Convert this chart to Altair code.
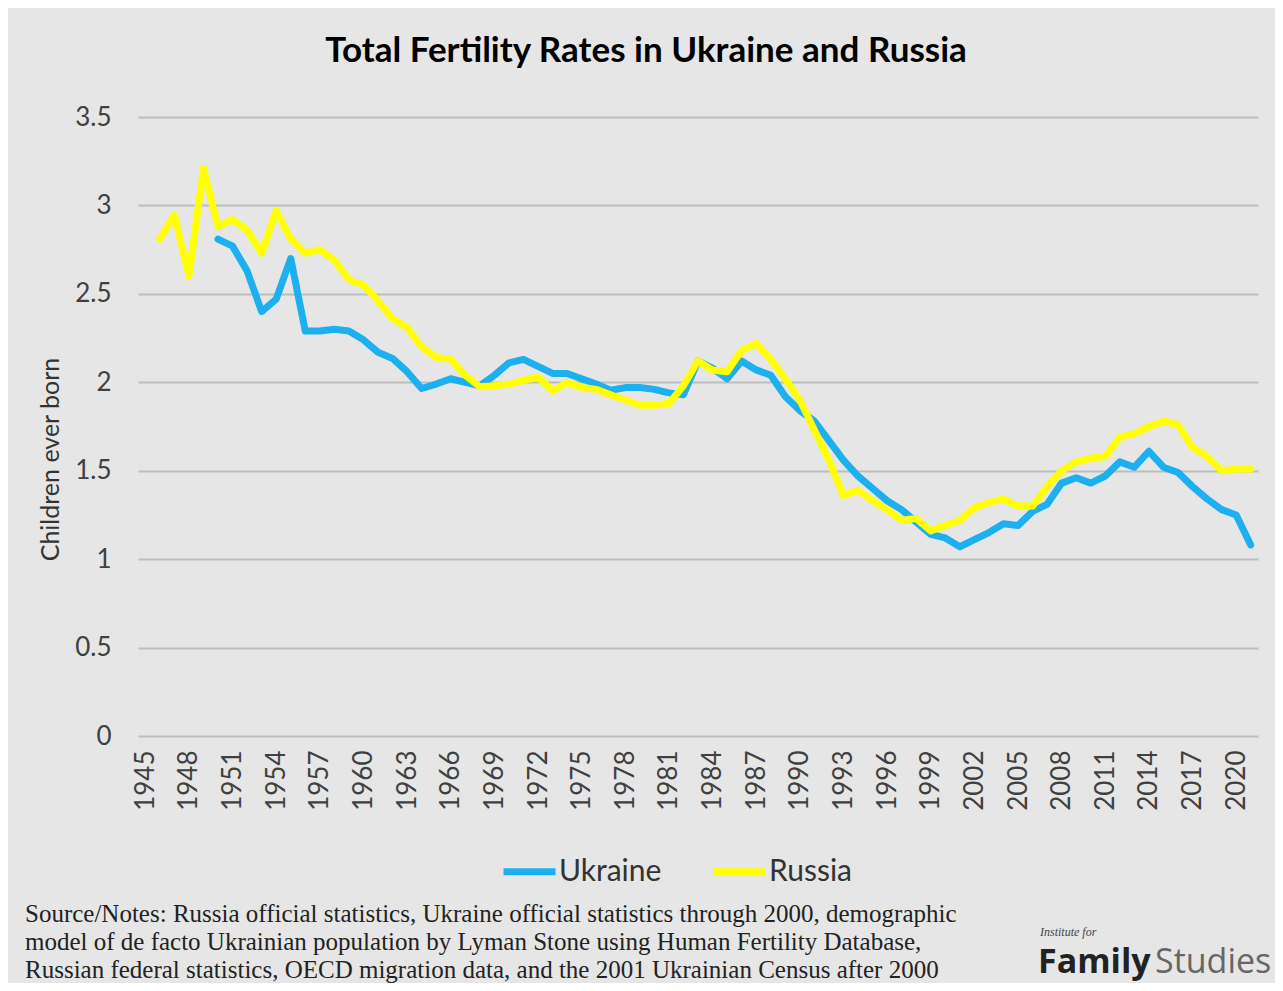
import altair as alt
import pandas as pd

# ---------------- data ----------------
years_russia = list(range(1946, 2022))
russia = [2.81, 2.945, 2.60, 3.21, 2.88, 2.92, 2.86, 2.73, 2.97, 2.81,
          2.73, 2.75, 2.69, 2.58, 2.55, 2.46, 2.36, 2.31, 2.20, 2.14,
          2.13, 2.04, 1.975, 1.98, 1.99, 2.01, 2.03, 1.95, 2.00, 1.97,
          1.96, 1.93, 1.90, 1.87, 1.87, 1.88, 1.98, 2.12, 2.07, 2.06,
          2.18, 2.22, 2.13, 2.02, 1.90, 1.73, 1.56, 1.36, 1.39, 1.33,
          1.28, 1.22, 1.23, 1.16, 1.19, 1.22, 1.29, 1.32, 1.34, 1.30,
          1.30, 1.41, 1.50, 1.55, 1.57, 1.58, 1.69, 1.71, 1.75, 1.78,
          1.76, 1.63, 1.58, 1.50, 1.51, 1.51]

years_ukraine = list(range(1950, 2022))
ukraine = [2.81, 2.77, 2.63, 2.40, 2.47, 2.70, 2.29, 2.29, 2.30, 2.29,
           2.24, 2.17, 2.135, 2.06, 1.965, 1.99, 2.02, 2.00, 1.98, 2.04,
           2.11, 2.13, 2.09, 2.05, 2.05, 2.02, 1.99, 1.955, 1.97, 1.97,
           1.96, 1.94, 1.93, 2.12, 2.08, 2.02, 2.12, 2.07, 2.04, 1.92,
           1.84, 1.78, 1.67, 1.56, 1.47, 1.40, 1.33, 1.28, 1.21, 1.14,
           1.12, 1.07, 1.11, 1.15, 1.20, 1.19, 1.27, 1.31, 1.43, 1.46,
           1.43, 1.47, 1.55, 1.52, 1.61, 1.52, 1.49, 1.41, 1.34, 1.28,
           1.25, 1.08]

x_tick_years = list(range(1945, 2021, 3))
y_ticks = [0, 0.5, 1, 1.5, 2, 2.5, 3, 3.5]
series_names = ["Ukraine", "Russia"]
series_colors = ["#1CB0F0", "#FFFF00"]

title_text = "Total Fertility Rates in Ukraine and Russia"
y_title = "Children ever born"
footer_lines = [
    "Source/Notes: Russia official statistics, Ukraine official statistics through 2000, demographic",
    "model of de facto Ukrainian population by Lyman Stone using Human Fertility Database,",
    "Russian federal statistics, OECD migration data, and the 2001 Ukrainian Census after 2000",
]
logo_small = "Institute for"
logo_bold = "Family"
logo_light = "Studies"

# ---------------- build table ----------------
df = pd.concat([
    pd.DataFrame({"year": years_ukraine, "tfr": ukraine, "series": "Ukraine"}),
    pd.DataFrame({"year": years_russia, "tfr": russia, "series": "Russia"}),
], ignore_index=True)

FONT = "Lato"

x_enc = alt.X(
    "year:Q",
    title=None,
    scale=alt.Scale(domain=[1944.5, 2021.5], nice=False, zero=False),
    axis=alt.Axis(values=x_tick_years, format="d", labelAngle=270,
                  labelFontSize=26, labelFont=FONT, labelColor="#404040",
                  labelPadding=14, ticks=False, domain=False, grid=False,
                  labelOverlap=False),
)
y_enc = alt.Y(
    "tfr:Q",
    title=y_title,
    scale=alt.Scale(domain=[0, 3.5], nice=False),
    axis=alt.Axis(values=y_ticks, format="~g", labelFontSize=26, labelFont=FONT,
                  labelColor="#404040", labelPadding=27, ticks=False,
                  domain=False, grid=True, gridColor="#BDBDBD", gridWidth=2,
                  titleFont=FONT, titleFontSize=25, titleFontWeight="normal",
                  titleColor="#333333", titleX=-88, titleY=342,
                  titleAlign="center", titleBaseline="middle", titleAngle=270),
)
color_enc = alt.Color(
    "series:N",
    scale=alt.Scale(domain=series_names, range=series_colors),
    legend=alt.Legend(title=None, orient="none", legendX=362, legendY=725,
                      direction="horizontal", symbolType="stroke",
                      symbolStrokeWidth=7, symbolSize=2704,
                      labelFontSize=30, labelFont=FONT, labelColor="#333333",
                      columnPadding=37, padding=0, labelOffset=0),
)

base = alt.Chart(df).mark_line(strokeWidth=7, strokeCap="round", strokeJoin="round").encode(
    x=x_enc, y=y_enc, color=color_enc
)
ukr_layer = base.transform_filter(alt.datum.series == "Ukraine")
rus_layer = base.transform_filter(alt.datum.series == "Russia")

footer = alt.Chart(pd.DataFrame({"t": ["\n".join(footer_lines)]})).mark_text(
    font="Liberation Serif", fontSize=25, color="#222222", align="left",
    baseline="middle", lineBreak="\n", lineHeight=28
).encode(text="t:N", x=alt.value(-113), y=alt.value(797))

logo1 = alt.Chart(pd.DataFrame({"t": [logo_small]})).mark_text(
    font="Liberation Serif", fontSize=12, fontStyle="italic", color="#444444",
    align="left", baseline="middle"
).encode(text="t:N", x=alt.value(902), y=alt.value(815))
logo2 = alt.Chart(pd.DataFrame({"t": [logo_bold]})).mark_text(
    font="Open Sans", fontSize=34, fontWeight="bold", color="#222222",
    align="left", baseline="alphabetic"
).encode(text="t:N", x=alt.value(900), y=alt.value(856))
logo3 = alt.Chart(pd.DataFrame({"t": [logo_light]})).mark_text(
    font="Open Sans", fontSize=34, fontWeight="normal", color="#666666",
    align="left", baseline="alphabetic"
).encode(text="t:N", x=alt.value(1017), y=alt.value(856))

chart = alt.layer(ukr_layer, rus_layer, footer, logo1, logo2, logo3).properties(
    width=1120,
    height=619,
    autosize=alt.AutoSizeParams(type="none"),
    padding={"left": 130, "top": 109, "right": 17, "bottom": 247},
    background="#E6E6E6",
    title=alt.TitleParams(text=title_text, font=FONT, fontSize=35,
                          fontWeight="bold", color="#000000", anchor="middle",
                          dx=-52, offset=7, baseline="alphabetic"),
).configure_view(strokeWidth=0)

chart.save("out.html", embed_options={"renderer": "svg", "actions": False})
